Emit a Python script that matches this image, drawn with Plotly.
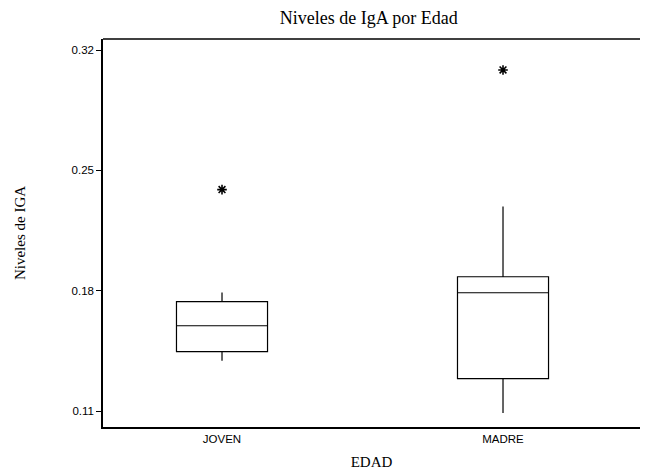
import plotly.graph_objects as go

# Summary statistics of IgA levels per age group
groups = ["JOVEN", "MADRE"]
q1 = [0.1445, 0.1288]
medians = [0.1596, 0.1788]
q3 = [0.1736, 0.1881]
lower_whisker = [0.1393, 0.1089]
upper_whisker = [0.1789, 0.2289]
outliers = [0.2388, 0.3084]

tick_vals = [0.11, 0.18, 0.25, 0.32]
tick_text = ["0.11", "0.18", "0.25", "0.32"]

serif = "Liberation Serif, Times New Roman, serif"
sans = "Liberation Sans, Arial, sans-serif"

WIDTH = 640
HEIGHT = 470

fig = go.Figure()
for i, g in enumerate(groups):
    fig.add_trace(go.Box(
        x=[g],
        q1=[q1[i]], median=[medians[i]], q3=[q3[i]],
        lowerfence=[lower_whisker[i]], upperfence=[upper_whisker[i]],
        boxpoints=False,
        width=0.324,
        whiskerwidth=0,
        fillcolor="rgba(0,0,0,0)",
        line=dict(color="black", width=1.2),
        showlegend=False,
        hoverinfo="skip",
    ))

fig.add_trace(go.Scatter(
    x=groups, y=outliers, mode="markers",
    marker=dict(symbol="asterisk-open", size=8, color="black",
                line=dict(color="black", width=1.6)),
    showlegend=False, hoverinfo="skip",
))

# top frame line (the frame is open on the right side)
fig.add_shape(type="line", xref="paper", yref="paper", x0=0, x1=1.0, y0=1, y1=1,
              line=dict(color="black", width=1.5))

fig.update_layout(
    width=WIDTH, height=HEIGHT,
    margin=dict(l=103, r=0, t=39, b=43),
    paper_bgcolor="white", plot_bgcolor="white",
    title=dict(text="Niveles de IgA por Edad", xref="paper", x=0.495, xanchor="center",
               y=1 - 18 / HEIGHT, yanchor="middle",
               font=dict(family=serif, size=18, color="black")),
    xaxis=dict(
        type="category", range=[-0.4235, 1.4875],
        showline=True, mirror=False, linecolor="black", linewidth=1.5,
        ticks="", showgrid=False, zeroline=False,
        tickfont=dict(family=sans, size=11.5, color="black"),
        title=dict(text="EDAD", font=dict(family=serif, size=15, color="black"),
                   standoff=14),
    ),
    yaxis=dict(
        range=[0.1007, 0.3264],
        tickvals=tick_vals, ticktext=tick_text,
        showline=True, mirror=False, linecolor="black", linewidth=1.5,
        ticks="outside", ticklen=5, tickcolor="black", tickwidth=1,
        showgrid=False, zeroline=False,
        tickfont=dict(family=sans, size=11.5, color="black"),
        title=dict(text="Niveles de IGA", font=dict(family=serif, size=15, color="black"),
                   standoff=42),
    ),
)

fig.write_html("out.html")
